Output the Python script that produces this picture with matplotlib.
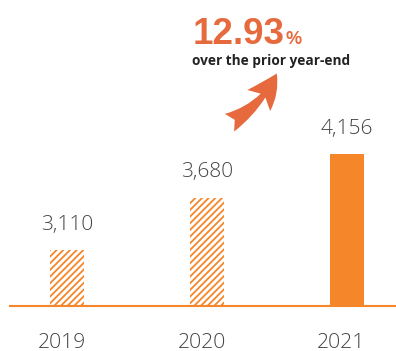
import matplotlib
matplotlib.use("Agg")
import matplotlib.pyplot as plt
from matplotlib.patches import FancyArrowPatch

# figures shown on the chart
years = ["2019", "2020", "2021"]
values = [3110, 3680, 4156]
value_labels = ["3,110", "3,680", "4,156"]
hatched = [True, True, False]
growth_pct = "12.93"
growth_note = "over the prior year-end"

BAR = "#F5862A"
ACCENT = "#E66A3E"
TEXT = "#444444"
BASE = 2500

W, H = 396, 351
fig = plt.figure(figsize=(W / 100, H / 100), dpi=100)
ax = fig.add_axes([0, 0, 1, 1])
ax.set_axis_off()

x = list(range(len(years)))
plt.rcParams["hatch.linewidth"] = 1.3
for xi, v, h in zip(x, values, hatched):
    if h:
        ax.bar(xi, v - BASE, bottom=BASE, width=0.243, facecolor="white",
               edgecolor=BAR, hatch="/////", linewidth=0)
    else:
        ax.bar(xi, v - BASE, bottom=BASE, width=0.243, color=BAR, linewidth=0)

for xi, v, lab in zip(x, values, value_labels):
    ax.annotate(lab, (xi, v), xytext=(0, 11), textcoords="offset points",
                ha="center", va="bottom", fontsize=15, color=TEXT,
                family="Open Sans", fontweight="light")

for xi, yr in zip(x, years):
    ax.annotate(yr, (xi, BASE), xytext=(-4, -30), textcoords="offset points",
                ha="center", va="baseline", fontsize=15.2, color=TEXT,
                family="Open Sans", fontweight="light")

ax.set_xlim(-67 / 140, (W - 67) / 140)
ax.set_ylim(BASE - 45 / 0.09178, BASE + 306 / 0.09178)
ax.axhline(BASE, xmin=10 / W, xmax=1, color=BAR, linewidth=1.5)

# growth call-out
t = fig.text(193 / W, 1 - 44 / H, growth_pct, fontsize=26.5, fontweight="bold",
             color=ACCENT, family="Liberation Sans", va="baseline")
fig.canvas.draw()
bb = t.get_window_extent()
fig.text((bb.x1 + 1) / W, 1 - 44 / H, "%", fontsize=13, fontweight="bold",
         color=ACCENT, family="Liberation Sans", va="baseline")
fig.text(192 / W, 1 - 65 / H, growth_note, fontsize=9.8, fontweight="bold",
         color="#222222", family="Open Sans", va="baseline")

arrow = FancyArrowPatch((227 / W, 1 - 124 / H), (278 / W, 1 - 71 / H),
                        transform=fig.transFigure,
                        arrowstyle="fancy,head_length=0.65,head_width=0.62,tail_width=0.4",
                        connectionstyle="arc3,rad=0.18",
                        mutation_scale=36, color=ACCENT, linewidth=0)
fig.patches.append(arrow)

fig.savefig("out.png", dpi=100)
